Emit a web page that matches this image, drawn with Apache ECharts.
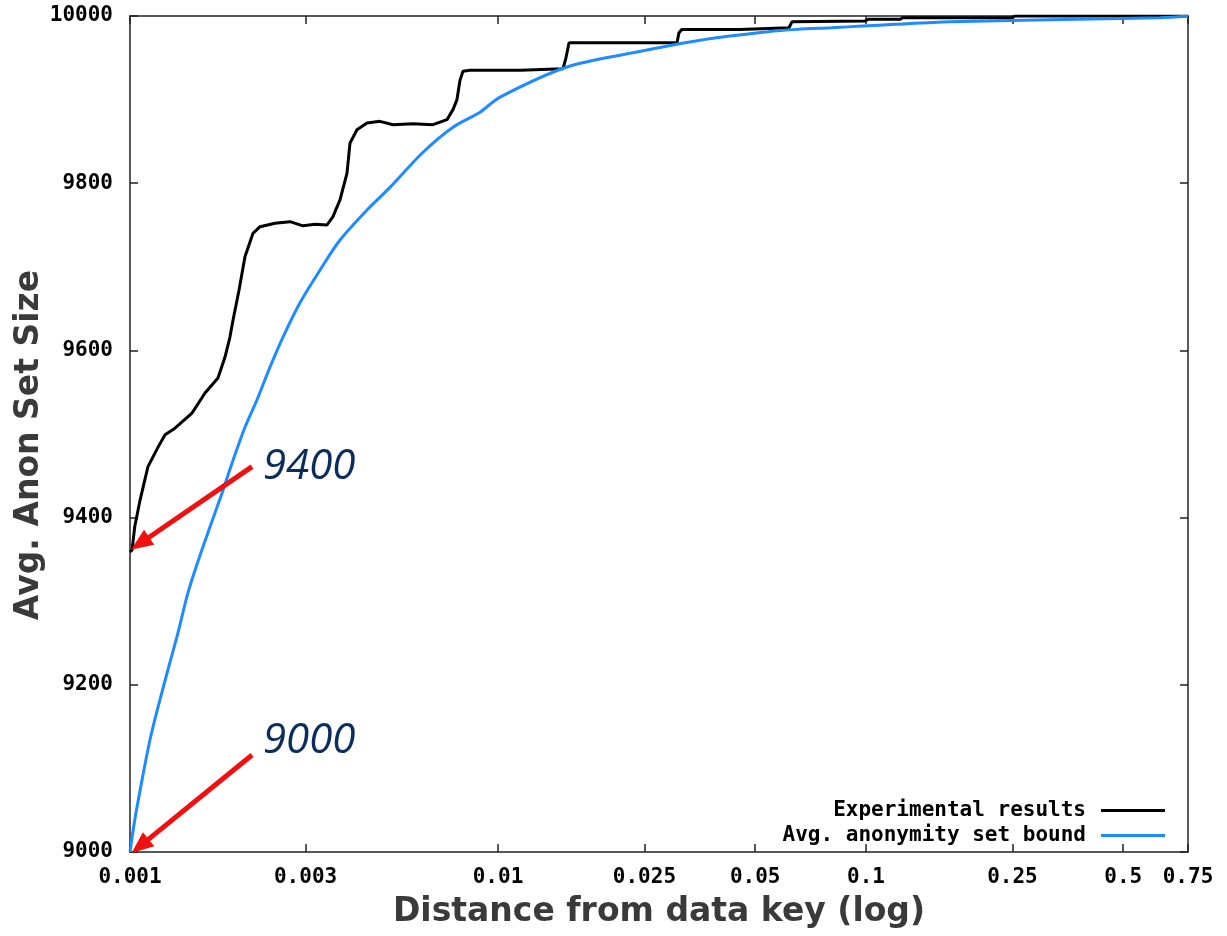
<!DOCTYPE html>
<html>
<head>
<meta charset="utf-8">
<script src="https://cdn.jsdelivr.net/npm/echarts@6/dist/echarts.min.js"></script>
<style>
  html, body { margin: 0; padding: 0; background: #ffffff; }
  #chart { width: 1227px; height: 936px; }
</style>
</head>
<body>
<div id="chart"></div>
<script>
// ---- Data ----
const seriesNames = ['Experimental results', 'Avg. anonymity set bound'];

// Experimental results: distance from data key and avg. anon set size
const expDist = [0.001, 0.001013, 0.00103, 0.001065, 0.001119, 0.001191, 0.001245, 0.001325, 0.001474,
  0.001599, 0.001734, 0.001812, 0.001869, 0.001905, 0.001978, 0.002053, 0.002159, 0.002256, 0.002477,
  0.002721, 0.002952, 0.003183, 0.00343, 0.003561, 0.003721, 0.003888, 0.003961, 0.004138, 0.004406,
  0.004777, 0.005185, 0.005875, 0.006659, 0.007267, 0.007545, 0.007737, 0.007883, 0.008033, 0.008392,
  0.01148, 0.01502, 0.0153, 0.0156, 0.02146, 0.03065, 0.03103, 0.03162, 0.04546, 0.06176, 0.06293,
  0.09938, 0.1013, 0.1237, 0.126, 0.2493, 0.2541, 0.75];
const expSize = [9359, 9361, 9389, 9421, 9461, 9484, 9499, 9507, 9525,
  9549, 9567, 9592, 9616, 9636, 9672, 9712, 9740, 9748, 9752,
  9754, 9749, 9751, 9750, 9760, 9780, 9812, 9848, 9864, 9872,
  9874, 9870, 9871, 9870, 9876, 9888, 9900, 9923, 9934, 9935,
  9935, 9937, 9950, 9968, 9968, 9968, 9980, 9984, 9984, 9986, 9993,
  9994, 9996, 9996, 9998, 9998, 10000, 10000];

// Avg. anonymity set bound
const boundDist = [0.001, 0.00103, 0.001078, 0.001133, 0.001191, 0.001268, 0.00135, 0.001437, 0.00155,
  0.00165, 0.001778, 0.001893, 0.002053, 0.002214, 0.002401, 0.002605, 0.002897, 0.003283, 0.003721,
  0.004406, 0.005087, 0.006255, 0.007545, 0.008935, 0.01013, 0.0154, 0.02327, 0.03539, 0.05383,
  0.06494, 0.0808, 0.0981, 0.1199, 0.1691, 0.2671, 0.6294, 0.75];
const boundSize = [9000, 9038, 9086, 9134, 9173, 9218, 9262, 9310, 9355,
  9389, 9429, 9465, 9508, 9541, 9580, 9616, 9657, 9696, 9732,
  9768, 9795, 9837, 9867, 9885, 9903, 9939, 9956, 9971, 9981,
  9984, 9986, 9988, 9990, 9993, 9995, 9998, 10000];

// Axis ticks
const xTickValues = [0.001, 0.003, 0.01, 0.025, 0.05, 0.1, 0.25, 0.5, 0.75];
const xTickLabels = ['0.001', '0.003', '0.01', '0.025', '0.05', '0.1', '0.25', '0.5', '0.75'];
const yMin = 9000, yMax = 10000, yStep = 200;

// Annotations: label text, arrow start [dist, size], arrow end [dist, size], text anchor [dist, size]
const noteTexts = ['9400', '9000'];
const noteArrowFrom = [[0.002146, 9461], [0.002146, 9116]];
const noteArrowTo = [[0.001065, 9369], [0.001065, 9007]];
const noteTextAt = [[0.002290, 9460], [0.002290, 9133]];

// ---- Build ----
const lg = Math.log10;
const xMin = lg(xTickValues[0]);
const xMax = lg(xTickValues[xTickValues.length - 1]);
const xTickLogs = xTickValues.map(lg);
function xLabel(v) {
  for (let i = 0; i < xTickLogs.length; i++) {
    if (Math.abs(xTickLogs[i] - v) < 1e-6) return xTickLabels[i];
  }
  return '';
}
const expData = expDist.map((d, i) => [lg(d), expSize[i]]);
const boundData = boundDist.map((d, i) => [lg(d), boundSize[i]]);

const monoFont = 'DejaVu Sans Mono';
const tickLabelStyle = { fontFamily: monoFont, fontWeight: 'bold', fontSize: 21, color: '#000' };
const frameLine = { show: true, onZero: false, lineStyle: { color: '#222', width: 1.5 } };
const inTick = { show: true, inside: true, length: 8, lineStyle: { color: '#222', width: 1.5 } };
const titleStyle = { fontFamily: 'DejaVu Sans', fontWeight: 'bold', fontSize: 33, color: '#3a3a3a' };

const chart = echarts.init(document.getElementById('chart'), null, { renderer: 'canvas' });
chart.setOption({
  animation: false,
  backgroundColor: '#ffffff',
  grid: { left: 130, right: 39, top: 16, bottom: 84, containLabel: false, outerBoundsMode: 'none' },
  legend: {
    data: seriesNames.map(n => ({ name: n, icon: 'rect' })),
    orient: 'vertical',
    align: 'right',
    right: 57,
    top: 795,
    itemWidth: 64,
    itemHeight: 3,
    itemGap: 4,
    textStyle: { fontFamily: monoFont, fontWeight: 'bold', fontSize: 21, color: '#000', padding: [0, 10, 0, 0] }
  },
  xAxis: [
    {
      type: 'value', position: 'bottom', min: xMin, max: xMax,
      axisLine: frameLine,
      axisTick: Object.assign({ customValues: xTickLogs }, inTick),
      axisLabel: Object.assign({ customValues: xTickLogs, formatter: xLabel, margin: 15 }, tickLabelStyle),
      splitLine: { show: false },
      name: 'Distance from data key (log)',
      nameLocation: 'middle',
      nameGap: 44,
      nameTextStyle: titleStyle
    },
    {
      type: 'value', position: 'top', min: xMin, max: xMax,
      axisLine: frameLine,
      axisTick: Object.assign({ customValues: xTickLogs }, inTick),
      axisLabel: { show: false },
      splitLine: { show: false }
    }
  ],
  yAxis: [
    {
      type: 'value', position: 'left', min: yMin, max: yMax, interval: yStep,
      axisLine: frameLine,
      axisTick: inTick,
      axisLabel: Object.assign({ margin: 17, formatter: v => String(v) }, tickLabelStyle),
      splitLine: { show: false },
      name: 'Avg. Anon Set Size',
      nameLocation: 'middle',
      nameGap: 84,
      nameRotate: 90,
      nameMoveOverlap: false,
      nameTextStyle: Object.assign({ padding: [0, 22, 0, 0] }, titleStyle)
    },
    {
      type: 'value', position: 'right', min: yMin, max: yMax, interval: yStep,
      axisLine: frameLine,
      axisTick: inTick,
      axisLabel: { show: false },
      splitLine: { show: false }
    }
  ],
  series: [
    {
      name: seriesNames[0],
      type: 'line',
      data: expData,
      symbol: 'none',
      lineStyle: { color: '#000000', width: 3 },
      itemStyle: { color: '#000000' },
      z: 3,
      markPoint: {
        silent: true,
        symbol: 'circle',
        symbolSize: 1,
        itemStyle: { color: 'rgba(0,0,0,0)' },
        label: {
          show: true, position: 'right', distance: 0,
          fontFamily: 'Open Sans', fontStyle: 'italic', fontSize: 42, color: '#0b2d5c'
        },
        data: noteTexts.map((t, i) => ({
          coord: [lg(noteTextAt[i][0]), noteTextAt[i][1]],
          value: t,
          label: { formatter: t }
        }))
      }
    },
    {
      name: seriesNames[1],
      type: 'line',
      data: boundData,
      symbol: 'none',
      smooth: 0.3,
      lineStyle: { color: '#1e8cff', width: 3 },
      itemStyle: { color: '#1e8cff' },
      z: 4,
      markLine: {
        silent: true,
        symbol: ['none', 'triangle'],
        symbolSize: [18, 22],
        label: { show: false },
        lineStyle: { color: '#f01010', width: 5, type: 'solid' },
        data: noteArrowFrom.map((f, i) => [
          { coord: [lg(f[0]), f[1]] },
          { coord: [lg(noteArrowTo[i][0]), noteArrowTo[i][1]] }
        ])
      }
    }
  ]
});
</script>
</body>
</html>
